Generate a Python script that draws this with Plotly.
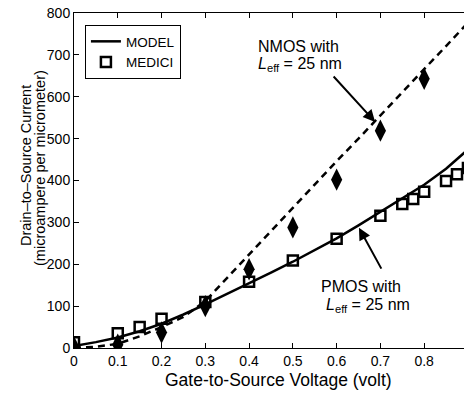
import plotly.graph_objects as go

# Gate-to-source voltage grid for model curves (volt)
vgs_model = [0.0, 0.05, 0.1, 0.15, 0.2, 0.25, 0.3, 0.35, 0.4, 0.45, 0.5,
             0.55, 0.6, 0.65, 0.7, 0.75, 0.8, 0.85, 0.9]
# PMOS model (solid line)
pmos_model = [5, 14, 25, 40, 58, 80, 104, 129, 155, 180, 206,
              233, 262, 293, 326, 358, 390, 428, 474]
# NMOS model (dashed line)
nmos_model = [0, 3, 10, 28, 50, 74, 112, 168, 222, 278, 335,
              390, 446, 500, 556, 611, 666, 721, 777]

# MEDICI data points
vgs_pmos = [0.0, 0.1, 0.15, 0.2, 0.3, 0.4, 0.5, 0.6, 0.7, 0.75, 0.775, 0.8, 0.85, 0.875, 0.9]
pmos_medici = [14, 35, 50, 70, 110, 158, 209, 261, 316, 344, 356, 373, 399, 415, 430]
vgs_nmos = [0.0, 0.1, 0.2, 0.3, 0.4, 0.5, 0.6, 0.7, 0.8]
nmos_medici = [2, 8, 37, 100, 188, 288, 402, 519, 643]

x_ticks = [0, 0.1, 0.2, 0.3, 0.4, 0.5, 0.6, 0.7, 0.8]
x_tick_labels = ["0", "0.1", "0.2", "0.3", "0.4", "0.5", "0.6", "0.7", "0.8"]
y_ticks = [0, 100, 200, 300, 400, 500, 600, 700, 800]

FONT = "Liberation Sans, Arial, sans-serif"

fig = go.Figure()
fig.add_trace(go.Scatter(x=vgs_model, y=pmos_model, mode="lines",
                         line=dict(color="black", width=2.5), name="MODEL"))
fig.add_trace(go.Scatter(x=vgs_model, y=nmos_model, mode="lines",
                         line=dict(color="black", width=2.5, dash="7px,5px"),
                         showlegend=False))
fig.add_trace(go.Scatter(x=vgs_pmos, y=pmos_medici, mode="markers",
                         marker=dict(symbol="square-open", size=10, color="black",
                                     line=dict(width=2.5, color="black")),
                         name="MEDICI"))
fig.add_trace(go.Scatter(x=vgs_nmos, y=nmos_medici, mode="markers",
                         marker=dict(symbol="diamond-tall", size=16, color="black",
                                     line=dict(width=0)),
                         showlegend=False))

# arrows
fig.add_annotation(x=0.688, y=540, ax=0.590, ay=652, axref="x", ayref="y",
                   xref="x", yref="y", text="", showarrow=True,
                   arrowhead=2, arrowsize=1.2, arrowwidth=2, arrowcolor="black")
fig.add_annotation(x=0.651, y=287, ax=0.704, ay=186, axref="x", ayref="y",
                   xref="x", yref="y", text="", showarrow=True,
                   arrowhead=2, arrowsize=1.2, arrowwidth=2, arrowcolor="black")

ann_font = dict(family=FONT, size=16, color="black")
# NMOS label
fig.add_annotation(x=0.416, y=719, xref="x", yref="y", xanchor="left", yanchor="middle",
                   text="NMOS with", showarrow=False, font=ann_font)
fig.add_annotation(x=0.416, y=678, xref="x", yref="y", xanchor="left", yanchor="middle",
                   text="<i>L</i><sub>eff</sub> = 25 nm", showarrow=False, font=ann_font)
# PMOS label
fig.add_annotation(x=0.560, y=148, xref="x", yref="y", xanchor="left", yanchor="middle",
                   text="PMOS with", showarrow=False, font=ann_font)
fig.add_annotation(x=0.572, y=101, xref="x", yref="y", xanchor="left", yanchor="middle",
                   text="<i>L</i><sub>eff</sub> = 25 nm", showarrow=False, font=ann_font)

# y-axis title (two closely spaced rotated lines)
ytitle_font = dict(family=FONT, size=14.5, color="black")
fig.add_annotation(x=(26 - 74) / 390, y=(348 - 166) / 335, xref="paper", yref="paper",
                   xanchor="center", yanchor="middle", textangle=-90,
                   text="Drain–to–Source Current", showarrow=False, font=ytitle_font)
fig.add_annotation(x=(40 - 74) / 390, y=(348 - 168) / 335, xref="paper", yref="paper",
                   xanchor="center", yanchor="middle", textangle=-90,
                   text="(microampere per micrometer)", showarrow=False, font=ytitle_font)

# x-axis title
fig.add_annotation(x=(278 - 74) / 390, y=(348 - 380) / 335, xref="paper", yref="paper",
                   xanchor="center", yanchor="middle",
                   text="Gate-to-Source Voltage (volt)", showarrow=False,
                   font=dict(family=FONT, size=17.5, color="black"))

fig.update_layout(
    width=464, height=396,
    margin=dict(l=74, r=0, t=13, b=48),
    paper_bgcolor="white", plot_bgcolor="white",
    font=dict(family=FONT, size=14, color="black"),
    showlegend=True,
    legend=dict(x=0.028, y=0.964, xanchor="left", yanchor="top",
                bgcolor="white", bordercolor="black", borderwidth=1,
                font=dict(family=FONT, size=13.5, color="black"),
                tracegroupgap=0, itemwidth=30),
    xaxis=dict(range=[0, 0.891], tickvals=x_ticks, ticktext=x_tick_labels,
               showgrid=False, zeroline=False, showline=True, linecolor="black",
               linewidth=1, mirror="ticks", ticks="inside", ticklen=5,
               tickcolor="black"),
    yaxis=dict(range=[0, 800], tickvals=y_ticks, showgrid=False, zeroline=False,
               showline=True, linecolor="black", linewidth=1, mirror=False,
               ticks="inside", ticklen=5, tickcolor="black"),
)

fig.write_html("out.html")
